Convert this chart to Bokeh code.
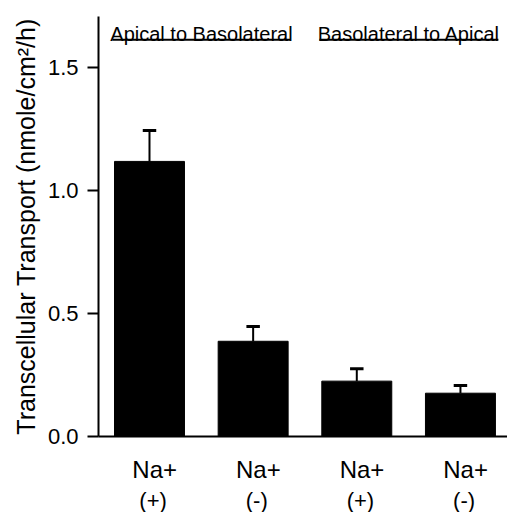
from bokeh.plotting import figure
from bokeh.models import Range1d, FixedTicker, PrintfTickFormatter, LinearAxis
from bokeh.embed import file_html
from bokeh.resources import INLINE
from bokeh.core.properties import value

# ---- data ----
conditions = ["Na+", "Na+", "Na+", "Na+"]
sodium = ["(+)", "(-)", "(+)", "(-)"]
transport = [1.118, 0.387, 0.225, 0.176]
sem = [0.126, 0.060, 0.050, 0.031]
y_ticks = [0.0, 0.5, 1.0, 1.5]
groups = ["Apical to Basolateral", "Basolateral to Apical"]
group_start = [-0.357, 1.640]
group_end = [1.360, 3.366]
y_title = "Transcellular Transport (nmole/cm\u00b2/h)"

FONT = "Liberation Sans"
Y_TOP = 1.707
xs = list(range(len(transport)))
upper = [m + e for m, e in zip(transport, sem)]

p = figure(frame_width=409, frame_height=420, output_backend="svg", toolbar_location=None,
           x_range=Range1d(-0.492, 3.454), y_range=Range1d(0, Y_TOP),
           min_border_left=98, min_border_right=0, min_border_top=16, min_border_bottom=0)
p.outline_line_color = None
p.xgrid.visible = False
p.ygrid.visible = False
p.background_fill_color = "white"

p.vbar(x=xs, top=transport, width=0.675, bottom=0, fill_color="black", line_color="black")
p.segment(x0=xs, y0=transport, x1=xs, y1=upper, line_color="black", line_width=2)
p.segment(x0=[x - 0.065 for x in xs], y0=upper, x1=[x + 0.065 for x in xs], y1=upper,
          line_color="black", line_width=3)

# group headers
centers = [(a + b) / 2 for a, b in zip(group_start, group_end)]
p.text(x=centers, y=[1.634] * 2, text=groups, text_align="center", text_baseline="alphabetic",
       text_font=value(FONT), text_font_size="20px", text_color="black")
p.segment(x0=group_start, y0=[1.612] * 2, x1=group_end, y1=[1.612] * 2,
          line_color="black", line_width=2)

# y axis
ya = p.yaxis[0]
ya.ticker = FixedTicker(ticks=y_ticks)
ya.formatter = PrintfTickFormatter(format="%.1f")
ya.minor_tick_line_color = None
ya.major_tick_out = 11
ya.major_tick_in = 0
ya.major_tick_line_width = 2
ya.major_tick_line_color = "black"
ya.axis_line_width = 2
ya.axis_line_color = "black"
ya.major_label_text_font = FONT
ya.major_label_text_font_size = "22px"
ya.major_label_text_color = "black"
ya.major_label_standoff = 9
ya.axis_label = y_title
ya.axis_label_text_font = FONT
ya.axis_label_text_font_size = "25px"
ya.axis_label_text_font_style = "normal"
ya.axis_label_text_color = "black"
ya.axis_label_standoff = 5

# x axis: two rows of category labels (slightly right of bar centres, as in the figure)
t1 = [x + 0.05 for x in xs]
t2 = [x + 0.035 for x in xs]

xa = p.xaxis[0]
xa.ticker = FixedTicker(ticks=t1)
xa.major_label_overrides = {t: conditions[i] for i, t in enumerate(t1)}
xa.major_tick_out = 0
xa.major_tick_in = 0
xa.major_tick_line_color = None
xa.minor_tick_line_color = None
xa.axis_line_width = 2
xa.axis_line_color = "black"
xa.major_label_text_font = FONT
xa.major_label_text_font_size = "24px"
xa.major_label_text_color = "black"
xa.major_label_standoff = 19

xb = LinearAxis(ticker=FixedTicker(ticks=t2))
xb.major_label_overrides = {t: sodium[i] for i, t in enumerate(t2)}
xb.axis_line_color = None
xb.major_tick_line_color = None
xb.minor_tick_line_color = None
xb.major_tick_out = 0
xb.major_tick_in = 0
xb.major_label_text_font = FONT
xb.major_label_text_font_size = "22px"
xb.major_label_text_color = "black"
xb.major_label_standoff = 2
p.add_layout(xb, "below")

open("out.html", "w").write(file_html(p, INLINE))
